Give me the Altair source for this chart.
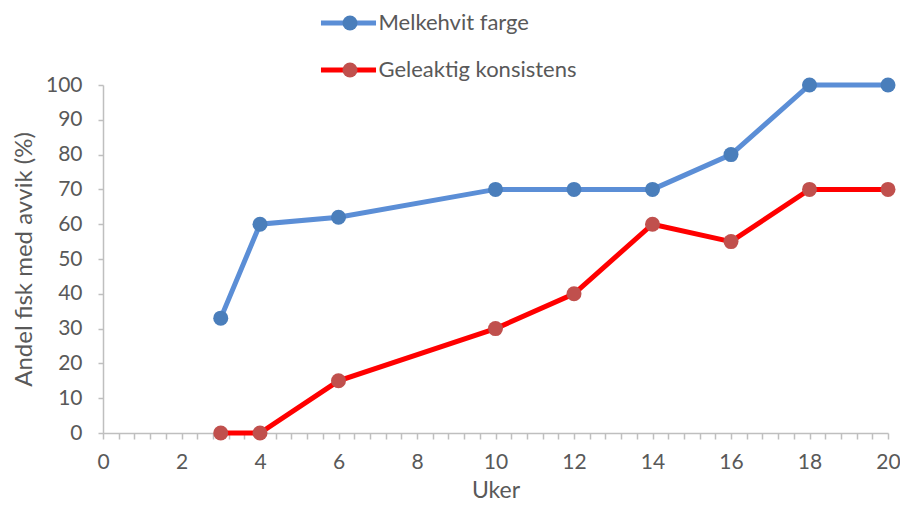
import altair as alt
import pandas as pd

uker = [3, 4, 6, 10, 12, 14, 16, 18, 20]
melkehvit = [33, 60, 62, 70, 70, 70, 80, 100, 100]
geleaktig = [0, 0, 15, 30, 40, 60, 55, 70, 70]
series = ["Melkehvit farge", "Geleaktig konsistens"]
line_colors = ["#5B8ED6", "#FF0000"]
marker_colors = ["#4A7EBB", "#C0504D"]
x_ticks = [round(i * 0.4, 1) for i in range(51)]
y_ticks = list(range(0, 101, 10))

df = pd.DataFrame({
    "Uker": uker * 2,
    "Andel": melkehvit + geleaktig,
    "Serie": [series[0]] * len(uker) + [series[1]] * len(uker),
})
df["Markør"] = df["Serie"]

FONT = "Lato"
LBL = "#595959"
AX = "#BFBFBF"

x = alt.X(
    "Uker:Q",
    title="Uker",
    scale=alt.Scale(domain=[0, 20], nice=False, zero=False),
    axis=alt.Axis(
        values=x_ticks,
        labelExpr="abs(datum.value/2 - round(datum.value/2)) < 0.001 ? format(datum.value, 'd') : ''",
        labelOverlap=False, labelFlush=False, grid=False,
        tickSize=6, tickColor=AX, domainColor=AX, domainWidth=1.5, tickWidth=1.5,
        labelPadding=12, labelFontSize=21, labelColor=LBL, labelFont=FONT,
        titleFontSize=23, titleColor=LBL, titleFont=FONT, titleFontWeight="normal",
        titlePadding=7,
    ),
)
y = alt.Y(
    "Andel:Q",
    title="Andel fisk med avvik (%)",
    scale=alt.Scale(domain=[0, 100], nice=False),
    axis=alt.Axis(
        values=y_ticks, grid=False,
        tickSize=5, tickColor=AX, domainColor=AX, domainWidth=1.5, tickWidth=1.5,
        labelPadding=16, labelFontSize=21, labelColor=LBL, labelFont=FONT,
        titleFontSize=24, titleColor=LBL, titleFont=FONT, titleFontWeight="normal",
        titlePadding=9,
    ),
)

lines = alt.Chart(df).mark_line(strokeWidth=5).encode(
    x=x, y=y,
    color=alt.Color(
        "Serie:N",
        scale=alt.Scale(domain=series, range=line_colors),
        legend=alt.Legend(
            orient="none", legendX=234.5, legendY=-73, title=None,
            symbolType="M-3.44,0H3.44", symbolSize=256, symbolStrokeWidth=5,
            labelFontSize=22, labelFont=FONT, labelColor=LBL, labelOffset=19,
            labelLimit=400, rowPadding=25, padding=0,
        ),
    ),
    detail="Serie:N",
)

points = alt.Chart(df).mark_circle(size=225, opacity=1).encode(
    x=x, y=y,
    fill=alt.Fill(
        "Markør:N",
        scale=alt.Scale(domain=series, range=marker_colors),
        legend=alt.Legend(
            orient="none", legendX=236, legendY=-73, title=None,
            symbolType="circle", symbolSize=225, symbolStrokeWidth=0,
            labelExpr="''", labelFontSize=22, labelOffset=0,
            rowPadding=25, padding=0,
        ),
    ),
)

chart = alt.layer(lines, points).resolve_scale(color="independent", fill="independent").properties(
    width=785, height=348,
    autosize=alt.AutoSizeParams(type="none"),
    padding={"left": 95, "top": 77, "right": 12, "bottom": 70},
).configure_view(stroke=None)

chart.save("out.html", embed_options={"renderer": "svg", "actions": False})
